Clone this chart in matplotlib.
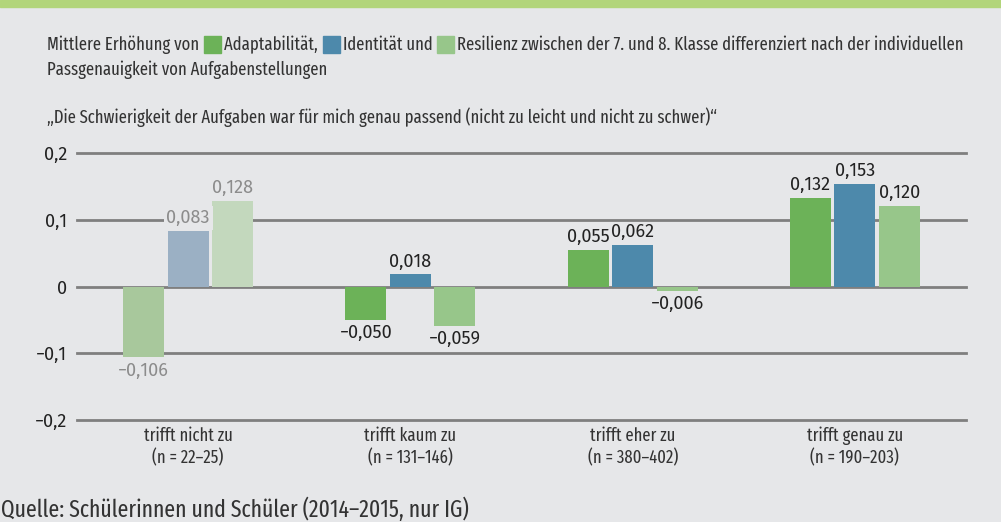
import numpy as np
import matplotlib.pyplot as plt
from matplotlib.patches import Rectangle

# data
categories = ['trifft nicht zu\n(n = 22–25)', 'trifft kaum zu\n(n = 131–146)',
              'trifft eher zu\n(n = 380–402)', 'trifft genau zu\n(n = 190–203)']
adaptabilitaet = [-0.106, -0.050, 0.055, 0.132]
identitaet = [0.083, 0.018, 0.062, 0.153]
resilienz = [0.128, -0.059, -0.006, 0.120]
yticks = [-0.2, -0.1, 0, 0.1, 0.2]
yticklabels = ['−0,2', '−0,1', '0', '0,1', '0,2']

bg = '#e6e7e9'
colors = ['#6cb258', '#4d89ab', '#97c68a']
faded = ['#a8c89c', '#9bb0c4', '#c3d8bd']
plt.rcParams['font.family'] = ['Fira Sans', 'Fira Sans Condensed', 'DejaVu Sans']
TITLE_FONT = ['Fira Sans Extra Condensed', 'DejaVu Sans']

W, H = 1001, 522
fig = plt.figure(figsize=(W / 100, H / 100), dpi=100, facecolor=bg)
fig.patches.append(Rectangle((0, 1 - 7 / H), 1, 7 / H, transform=fig.transFigure,
                             color='#b2d57a', zorder=5))

ax = fig.add_axes([77 / W, (H - 420) / H, (966 - 77) / W, 267 / H])
ax.set_facecolor(bg)
for s in ax.spines.values():
    s.set_visible(False)
ax.set_xlim(-0.5, 3.5)
ax.set_ylim(-0.2, 0.2)

for t in yticks:
    ax.axhline(t, color='#7f7f7f', lw=2, zorder=0, clip_on=False)

x = np.arange(len(categories))
bw = 0.185
step = 0.2
series = [adaptabilitaet, identitaet, resilienz]
for k, vals in enumerate(series):
    for i, v in enumerate(vals):
        c = faded[k] if i == 0 else colors[k]
        xi = x[i] + (k - 1) * step
        ax.bar(xi, v, width=bw, color=c, zorder=2)
        txt = f'{abs(v):.3f}'.replace('.', ',')
        if v < 0:
            txt = '−' + txt
        tc = '#8c8c8c' if i == 0 else '#222222'
        box = dict(boxstyle='square,pad=0.15', fc=bg, ec='none') if i == 0 else None
        ax.annotate(txt, (xi, v), xytext=(0, 3 if v >= 0 else -3), textcoords='offset points',
                    ha='center', va='bottom' if v >= 0 else 'top', fontsize=13,
                    color=tc, bbox=box, zorder=3)

ax.set_yticks(yticks)
ax.set_yticklabels(yticklabels, fontsize=13, color='#222222')
ax.set_xticks(x)
ax.set_xticklabels(categories, fontsize=13, color='#333333', linespacing=1.25,
                   family=TITLE_FONT)
ax.tick_params(length=0)
ax.tick_params(axis='y', pad=7)
ax.tick_params(axis='x', pad=5)

# title line with inline legend squares
fig.canvas.draw()
r = fig.canvas.get_renderer()
parts = ['Mittlere Erhöhung von ', 'Adaptabilität, ', 'Identität und ',
         'Resilienz zwischen der 7. und 8. Klasse differenziert nach der individuellen']
xpos = 47
yc = 1 - 45 / H
for j, p in enumerate(parts):
    if j > 0:
        fig.patches.append(Rectangle((xpos / W, 1 - 53 / H), 17 / W, 17 / H,
                                     transform=fig.transFigure, color=colors[j - 1]))
        xpos += 20
    t = fig.text(xpos / W, yc, p, fontsize=13, color='#333333', va='center', ha='left',
                 family=TITLE_FONT)
    xpos += t.get_window_extent(r).width + 1
fig.text(47 / W, 1 - 70 / H, 'Passgenauigkeit von Aufgabenstellungen', fontsize=13,
         color='#333333', va='center', family=TITLE_FONT)
fig.text(47 / W, 1 - 117 / H,
         '„Die Schwierigkeit der Aufgaben war für mich genau passend (nicht zu leicht und nicht zu schwer)“',
         fontsize=13, color='#333333', va='center', family=TITLE_FONT)
fig.text(1 / W, 1 - 510 / H, 'Quelle: Schülerinnen und Schüler (2014–2015, nur IG)',
         fontsize=17, color='#333333', va='center', family=TITLE_FONT)

fig.savefig('out.png', dpi=100, facecolor=bg)
